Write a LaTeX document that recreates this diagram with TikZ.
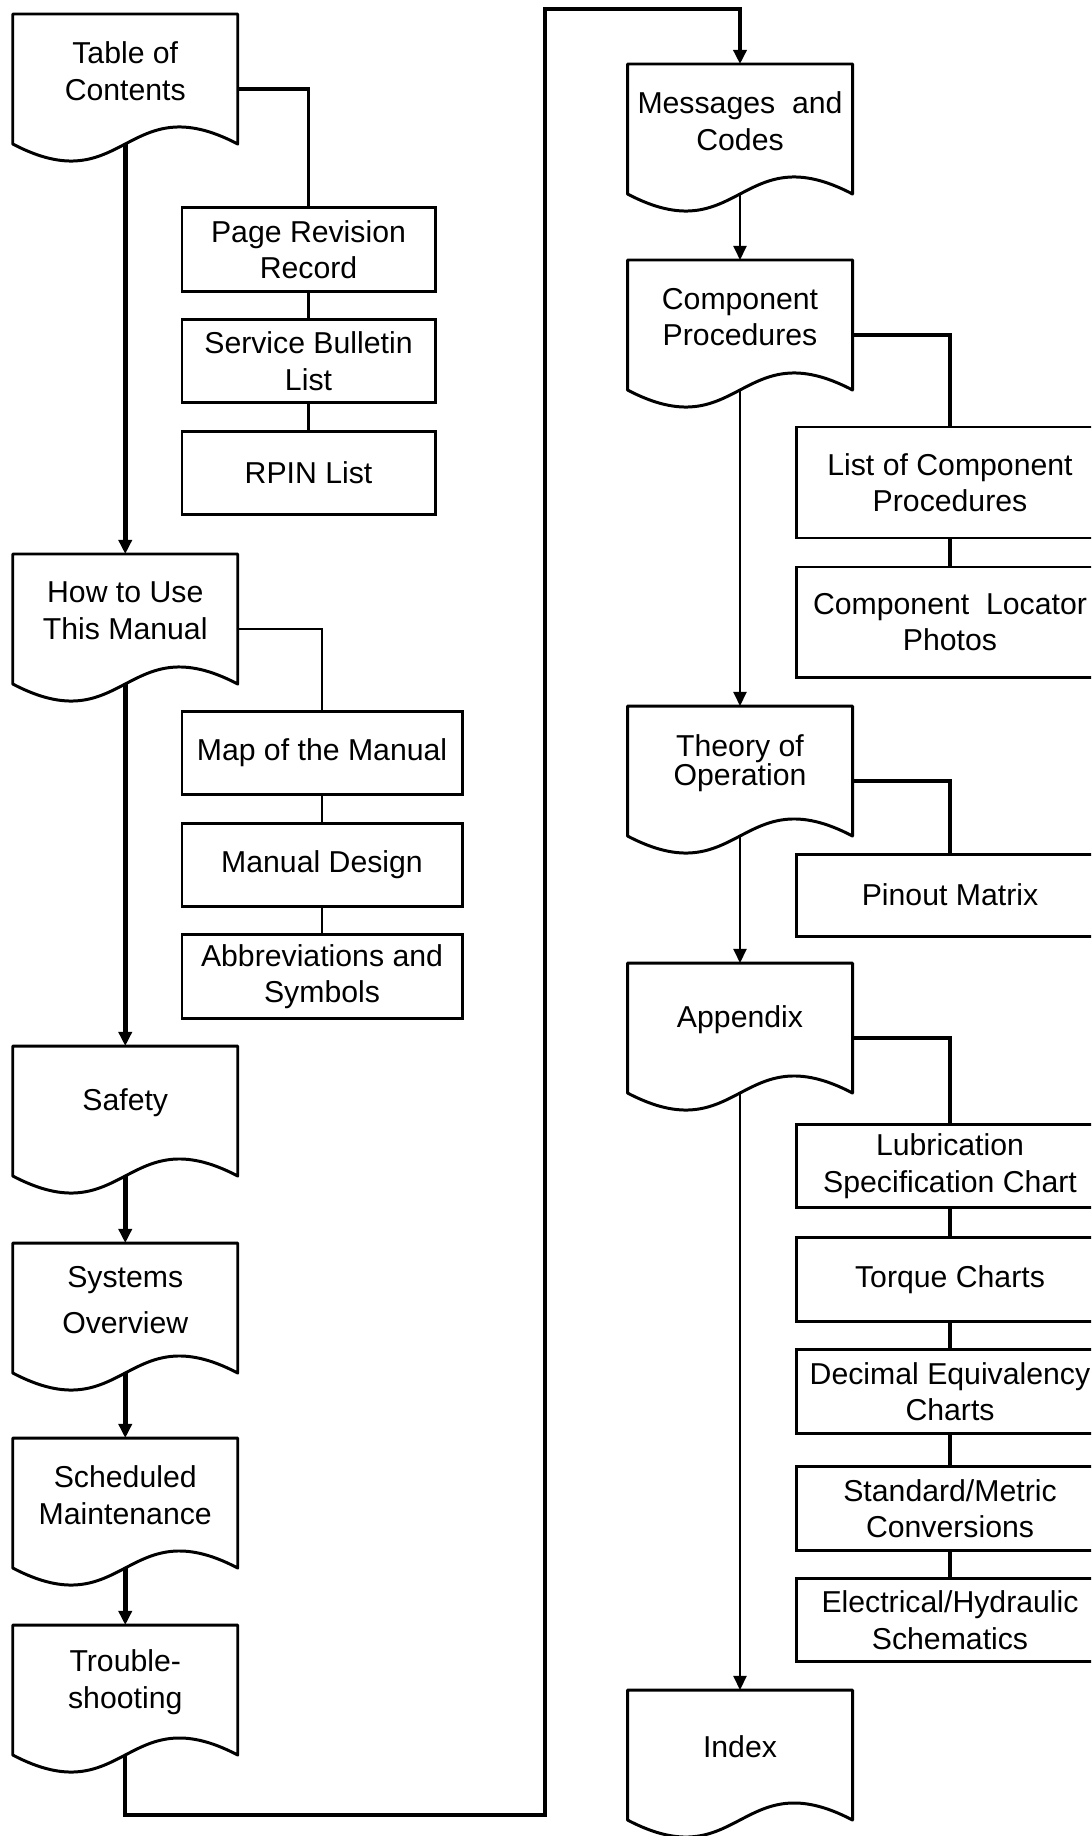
\documentclass[tikz,border=0pt]{standalone}
\usepackage{fontspec}
\setmainfont{Liberation Sans}
\usetikzlibrary{arrows.meta}

\newcommand{\docshape}[1]{%
  \draw[docline] (#1.north west) -- (#1.north east) -- ([yshift=-1.3cm]#1.north east)
    .. controls ([yshift=-0.71cm]#1.north) and ([yshift=-1.89cm]#1.north)
    .. ([yshift=-1.3cm]#1.north west) -- cycle;
  \coordinate (#1-out) at ([yshift=-1.3cm]#1.north);}

\begin{document}
\begin{tikzpicture}[
        doc/.style={minimum width=2.25cm, minimum height=1.14cm, inner sep=0pt, outer sep=0pt, align=center},
        docline/.style={draw=black, line width=0.85pt, line join=round},
        sub/.style={rectangle, draw=black, line width=0.85pt, minimum height=0.835cm, inner sep=1pt, align=center},
        subA/.style={sub, minimum width=2.53cm},
        subB/.style={sub, minimum width=2.80cm},
        subC/.style={sub, minimum width=3.08cm},
        flow/.style={-{Triangle[length=4pt,width=3.7pt]}, line width=1.4pt},
        thinflow/.style={-{Triangle[length=4pt,width=3.7pt]}, line width=0.6pt},
        link/.style={line width=1.1pt},
        thinlink/.style={line width=0.6pt},
        font=\fontsize{8.6}{10.4}\selectfont,
        ]
        \clip (0,0) rectangle (10.91,-18.36);

        \node (toc) at (1.2525,-0.71) [doc] {Table of\\Contents};
        \node (howto) at (1.2525,-6.11) [doc] {How to Use\\This Manual};
        \node (safety) at (1.2525,-11.03) [doc] {Safety};
        \node (sysov) at (1.2525,-13.00) [doc] {Systems\\[0.1cm]Overview};
        \node (sched) at (1.2525,-14.95) [doc] {Scheduled\\Maintenance};
        \node (trouble) at (1.2525,-16.82) [doc] {Trouble-\\shooting};
        \node (msgs) at (7.40,-1.21) [doc] {Messages~ and\\Codes};
        \node (comp) at (7.40,-3.17) [doc] {Component\\Procedures};
        \node (theory) at (7.40,-7.63) [doc] {Theory of\\[-0.08cm]Operation};
        \node (appendix) at (7.40,-10.20) [doc] {Appendix};
        \node (index) at (7.40,-17.47) [doc] {Index};

        \docshape{toc}
        \docshape{howto}
        \docshape{safety}
        \docshape{sysov}
        \docshape{sched}
        \docshape{trouble}
        \docshape{msgs}
        \docshape{comp}
        \docshape{theory}
        \docshape{appendix}
        \docshape{index}

        \node (pagerev) at (3.085,-2.495) [subA] {Page Revision\\Record};
        \node (svcbull) at (3.085,-3.61) [subA] {Service Bulletin\\List};
        \node (rpin) at (3.085,-4.73) [subA] {RPIN List};
        \node (mapman) at (3.22,-7.53) [subB] {Map of the Manual};
        \node (mandes) at (3.22,-8.65) [subB] {Manual Design};
        \node (abbrev) at (3.22,-9.765) [subB] {Abbreviations and\\Symbols};
        \node (listcomp) at (9.50,-4.825) [subC, minimum height=1.11cm] {List of Component\\Procedures};
        \node (locator) at (9.50,-6.22) [subC, minimum height=1.10cm] {Component~ Locator\\Photos};
        \node (pinout) at (9.50,-8.95) [subC, minimum height=0.82cm] {Pinout Matrix};
        \node (lub) at (9.50,-11.66) [subC] {Lubrication\\Specification Chart};
        \node (torque) at (9.50,-12.795) [subC] {Torque Charts};
        \node (decimal) at (9.50,-13.915) [subC] {Decimal Equivalency\\Charts};
        \node (stdmet) at (9.50,-15.085) [subC] {Standard/Metric\\Conversions};
        \node (elec) at (9.50,-16.20) [subC] {Electrical/Hydraulic\\Schematics};

        \coordinate (turnlow) at (5.45,-18.15);
        \coordinate (turnhigh) at (5.45,-0.09);

        \draw[flow] (toc-out) -- (howto);
        \draw[flow] (howto-out) -- (safety);
        \draw[flow] (safety-out) -- (sysov);
        \draw[flow] (sysov-out) -- (sched);
        \draw[flow] (sched-out) -- (trouble);
        \draw[link, -{Triangle[length=4pt,width=3.7pt]}] (trouble-out) |- (turnlow) -- (turnhigh) -| (msgs);
        \draw[thinflow] (msgs-out) -- (comp);
        \draw[thinflow] (comp-out) -- (theory);
        \draw[thinflow] (theory-out) -- (appendix);
        \draw[thinflow] (appendix-out) -- (index);

        \draw[link] ([yshift=-0.18cm]toc.east) -| (pagerev);
        \draw[link] (pagerev) -- (svcbull);
        \draw[link] (svcbull) -- (rpin);
        \draw[thinlink] ([yshift=-0.18cm]howto.east) -| (mapman);
        \draw[thinlink] (mapman) -- (mandes);
        \draw[thinlink] (mandes) -- (abbrev);
        \draw[link] ([yshift=-0.18cm]comp.east) -| (listcomp);
        \draw[link] (listcomp) -- (locator);
        \draw[link] ([yshift=-0.18cm]theory.east) -| (pinout);
        \draw[link] ([yshift=-0.18cm]appendix.east) -| (lub);
        \draw[link] (lub) -- (torque);
        \draw[link] (torque) -- (decimal);
        \draw[link] (decimal) -- (stdmet);
        \draw[link] (stdmet) -- (elec);

    \end{tikzpicture}
\end{document}
